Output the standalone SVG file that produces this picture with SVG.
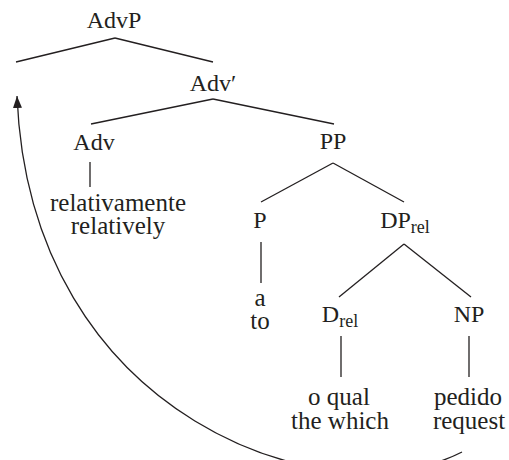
<svg xmlns="http://www.w3.org/2000/svg" width="509" height="460" viewBox="0 0 509 460">
<defs>
<marker id="ah" viewBox="0 0 12 9" refX="12" refY="4.5" markerWidth="12" markerHeight="9" markerUnits="userSpaceOnUse" orient="auto">
<path d="M0,0 L12,4.5 L0,9 z" fill="#231f20" stroke="none"/>
</marker>
</defs>
<rect width="509" height="460" fill="#fff"/>
<g id="connectors" stroke="#231f20" stroke-width="1.3" fill="none">
<line x1="115" y1="38" x2="16" y2="62"/>
<line x1="115" y1="38" x2="213" y2="62"/>
<line x1="213" y1="99" x2="91" y2="124"/>
<line x1="213" y1="99" x2="334" y2="124"/>
<line x1="90" y1="162" x2="90" y2="187"/>
<line x1="333" y1="163" x2="261" y2="202"/>
<line x1="333" y1="163" x2="404" y2="202"/>
<line x1="261" y1="242" x2="261" y2="283"/>
<line x1="404" y1="244" x2="339" y2="297"/>
<line x1="404" y1="244" x2="471" y2="297"/>
<line x1="341" y1="336" x2="341" y2="377"/>
<line x1="469" y1="336" x2="469" y2="377"/>
<path d="M462,452 C330,520 30,420 17,96" marker-end="url(#ah)"/>
</g>
<g fill="#231f20" text-anchor="middle">
<g id="AdvP"><text style="font-family:'Liberation Serif'" font-size="24" x="114" y="28">AdvP</text></g>
<g id="AdvBar"><text style="font-family:'Liberation Serif'" font-size="24" x="213" y="91">Adv′</text></g>
<g id="Adv"><text style="font-family:'Liberation Serif'" font-size="24" x="94" y="150">Adv</text></g>
<g id="relativamente"><text style="font-family:'Liberation Serif'" font-size="25" x="118" y="211">relativamente</text><text style="font-family:'Liberation Serif'" font-size="25" x="118" y="234">relatively</text></g>
<g id="PP"><text style="font-family:'Liberation Serif'" font-size="24" x="333" y="149">PP</text></g>
<g id="P"><text style="font-family:'Liberation Serif'" font-size="24" x="260" y="228">P</text></g>
<g id="a"><text style="font-family:'Liberation Serif'" font-size="25" x="260" y="306">a</text><text style="font-family:'Liberation Serif'" font-size="25" x="260" y="329">to</text></g>
<g id="DPrel"><text style="font-family:'Liberation Serif'" font-size="24" x="405" y="228">DP<tspan font-size="18" dy="5">rel</tspan></text></g>
<g id="Drel"><text style="font-family:'Liberation Serif'" font-size="24" x="340" y="322">D<tspan font-size="18" dy="5">rel</tspan></text></g>
<g id="NP"><text style="font-family:'Liberation Serif'" font-size="24" x="469" y="322">NP</text></g>
<g id="oqual"><text style="font-family:'Liberation Serif'" font-size="25" x="339" y="405">o qual</text><text style="font-family:'Liberation Serif'" font-size="25" x="340" y="429">the which</text></g>
<g id="pedido"><text style="font-family:'Liberation Serif'" font-size="25" x="468" y="405">pedido</text><text style="font-family:'Liberation Serif'" font-size="25" x="469" y="429">request</text></g>
</g>
</svg>
